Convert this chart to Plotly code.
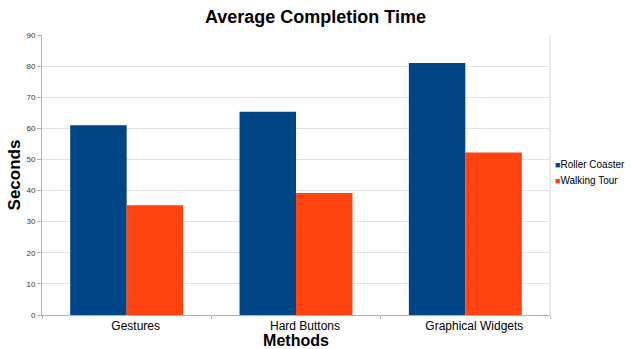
import plotly.graph_objects as go

categories = ["Gestures", "Hard Buttons", "Graphical Widgets"]
roller_coaster = [61.0, 65.3, 81.0]
walking_tour = [35.3, 39.2, 52.2]
series_names = ["Roller Coaster", "Walking Tour"]
colors = ["#004586", "#ff420e"]

fig = go.Figure()
for name, vals, c in zip(series_names, [roller_coaster, walking_tour], colors):
    fig.add_trace(go.Bar(x=categories, y=vals, name=name,
                         marker=dict(color=c, line=dict(width=0))))

fig.update_layout(
    width=631, height=349,
    margin=dict(l=42, r=81, t=35, b=34, autoexpand=False),
    paper_bgcolor="white", plot_bgcolor="white",
    barmode="group", bargap=0.333, bargroupgap=0,
    font=dict(family="Liberation Sans, Arial, sans-serif", color="#000"),
    title=dict(text="<b>Average Completion Time</b>", x=0.5, xanchor="center",
               y=0.951, yanchor="middle", font=dict(size=18, color="#000")),
    showlegend=False,
    xaxis=dict(
        title=dict(text="<b>Methods</b>", font=dict(size=16, color="#000"), standoff=0),
        tickfont=dict(size=12, color="#000"),
        showline=True, linecolor="#b3b3b3", linewidth=1, mirror=False,
        ticks="outside", tickson="boundaries", ticklen=3, tickcolor="#b3b3b3",
        showgrid=False, ticklabelshift=9, automargin=False,
    ),
    yaxis=dict(
        title=dict(text="<b>Seconds</b>", font=dict(size=17, color="#000"), standoff=1),
        range=[0, 90], dtick=10, tickfont=dict(size=8, color="#333"),
        showline=True, linecolor="#b3b3b3", linewidth=1,
        ticks="outside", ticklen=4, tickcolor="#b3b3b3",
        showgrid=True, gridcolor="#e3e3e3", gridwidth=1,
        zeroline=False, automargin=False,
    ),
)
# right border of plot area
fig.add_shape(type="line", xref="paper", yref="paper", x0=1, x1=1, y0=0, y1=1,
              line=dict(color="#d9d9d9", width=1))

# legend (LibreOffice style: small square directly before the text)
for i, (name, c) in enumerate(zip(series_names, colors)):
    fig.add_annotation(
        xref="paper", yref="paper", x=1.0, y=0.5, xanchor="left", yanchor="middle",
        xshift=3, yshift=(1 - 2 * i) * 8 + 3,
        text=f"<span style='color:{c};font-size:9px'>■</span>{name}",
        showarrow=False, font=dict(size=10, color="#000"), align="left",
    )

fig.write_html("out.html", config={"displayModeBar": False},
               post_script="document.body.style.margin='0';")
